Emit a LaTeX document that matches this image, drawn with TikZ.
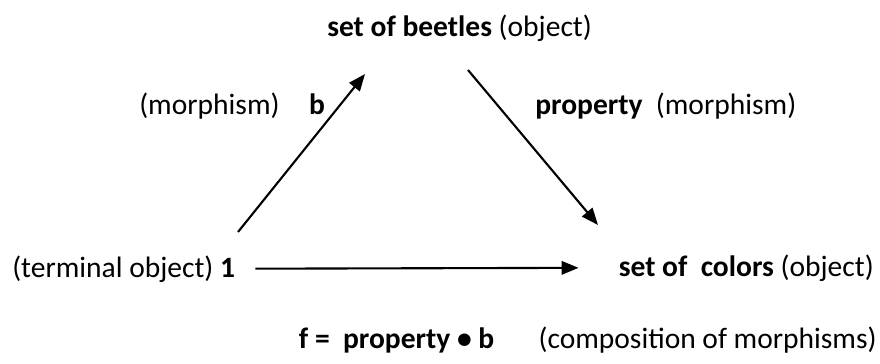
\documentclass[tikz,border=0pt]{standalone}
\usepackage{fontspec}
\setmainfont{Carlito}
\usetikzlibrary{arrows.meta}

\begin{document}
\begin{tikzpicture}[
  x=0.025cm, y=-0.025cm,
  lbl/.style = {inner sep=0pt, font=\fontsize{21}{25}\selectfont},
  arr/.style = {-{Triangle[length=12pt, width=9.5pt]}, line width=1.5pt},
]
\useasboundingbox (0,0) rectangle (880,363);

%% -- Objects -----------------------------------------------------------
\node[lbl, anchor=base west] (beetles) at (327,36)  {\textbf{set of beetles} (object)};
\node[lbl, anchor=base west] (term)    at (12,277)  {(terminal object) \textbf{1}};
\node[lbl, anchor=base east] (colors)  at (874,276) {\textbf{set of\ \ colors} (object)};

%% -- Morphism labels ---------------------------------------------------
\node[lbl, anchor=base west] (blbl)    at (139,114) {(morphism)\quad\textbf{b}};
\node[lbl, anchor=base west] (proplbl) at (535,114) {\textbf{property}\ \ (morphism)};
\node[lbl, anchor=base east] (comp)    at (877,348)
     {\textbf{f =\ \ property \textbullet\ b}\hspace{1.5em}(composition of morphisms)};

%% -- Arrow ends --------------------------------------------------------
\coordinate (bstart) at (238,232);
\coordinate (bend)   at (365,74);
\coordinate (pstart) at (468,70);
\coordinate (pend)   at (598,225);

%% -- Arrows ------------------------------------------------------------
\draw[arr] (bstart) -- (bend);
\draw[arr] (pstart) -- (pend);
\draw[arr, shorten <=0.5cm, shorten >=1cm] (term.east) -- (colors.west);
\end{tikzpicture}
\end{document}
